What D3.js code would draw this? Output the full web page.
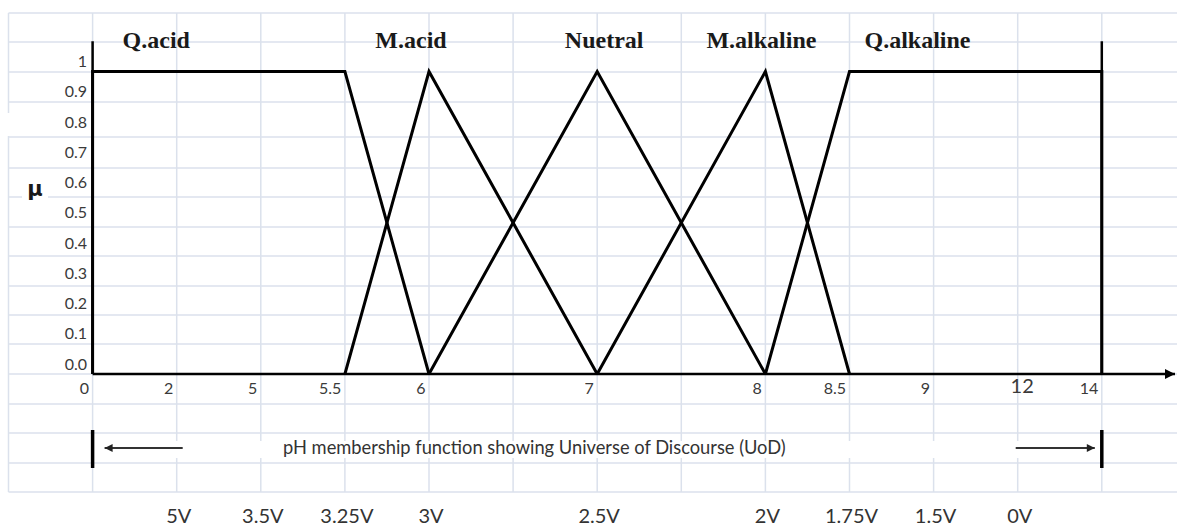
<!DOCTYPE html>
<html>
<head>
<meta charset="utf-8">
<script src="https://cdn.jsdelivr.net/npm/d3@7"></script>
<style>
  html, body { margin: 0; padding: 0; background: #fff; }
  svg { display: block; }
</style>
</head>
<body>
<svg id="chart" width="1177" height="529"></svg>
<script>
// pH values marked along the universe of discourse
const phTicks = [0, 2, 5, 5.5, 6, 7, 8, 8.5, 9, 12, 14];

// membership grades on the μ axis
const muTicks = [0, 0.1, 0.2, 0.3, 0.4, 0.5, 0.6, 0.7, 0.8, 0.9, 1];
const muTickLabels = ["0.0", "0.1", "0.2", "0.3", "0.4", "0.5", "0.6", "0.7", "0.8", "0.9", "1"];

// fuzzy sets: name and trapezoid corners (a, b, c, d) in pH units
const setNames = ["Q.acid", "M.acid", "Nuetral", "M.alkaline", "Q.alkaline"];
const setCorners = [
  [0, 0, 5.5, 6],
  [5.5, 6, 6, 7],
  [6, 7, 7, 8],
  [7, 8, 8, 8.5],
  [8, 8.5, 14, 14]
];

// probe voltage read at each pH point
const voltLabels = ["5V", "3.5V", "3.25V", "3V", "2.5V", "2V", "1.75V", "1.5V", "0V"];
const voltPh = [2, 5, 5.5, 6, 7, 8, 8.5, 9, 12];

const uodCaption = "pH membership function showing Universe of Discourse (UoD)";

// ---- sheet layout ----
const W = 1177, H = 529;
const colW = 84.1, colX0 = 8.5;
const colX = i => colX0 + i * colW;
const tickColumns = [1, 2, 3, 4, 5, 7, 9, 10, 11, 12, 13];
const rowY = [13, 42, 72, 102, 137, 168, 197, 227, 256, 286, 315, 344, 374, 404, 433, 463, 492];

const svg = d3.select("#chart");
const sansFont = "Lato, 'Open Sans', sans-serif";
const serifFont = "'Liberation Serif', 'DejaVu Serif', serif";

// piecewise pH scale: each tick sits on a sheet column edge
const x = d3.scaleLinear()
  .domain(phTicks)
  .range(tickColumns.map(colX));

const y = d3.scaleLinear()
  .domain([0, 1])
  .range([374, 71.5]);

// ---- background cell grid ----
const grid = svg.append("g")
  .attr("stroke", "#dbe1ec")
  .attr("stroke-width", 1.5)
  .attr("fill", "none");

grid.selectAll("line.h").data(rowY).join("line")
  .attr("class", "h")
  .attr("x1", colX(0)).attr("x2", W)
  .attr("y1", d => d).attr("y2", d => d);

grid.selectAll("line.v").data(d3.range(0, 15)).join("line")
  .attr("class", "v")
  .attr("x1", d => colX(d)).attr("x2", d => colX(d))
  .attr("y1", rowY[0]).attr("y2", rowY[rowY.length - 1]);

// blank cell edge on the far left column
svg.append("rect")
  .attr("x", colX(0) - 2).attr("y", 113).attr("width", 4).attr("height", 23)
  .attr("fill", "#fff");

// ---- μ axis ----
svg.append("line")
  .attr("x1", x(0)).attr("x2", x(0))
  .attr("y1", y(1.1)).attr("y2", y(0))
  .attr("stroke", "#000").attr("stroke-width", 2.5);

const yAxis = d3.axisLeft(y)
  .tickValues(muTicks)
  .tickFormat((d, i) => muTickLabels[i])
  .tickSize(0)
  .tickPadding(5);

const yg = svg.append("g")
  .attr("transform", `translate(${x(0) - 0.5},0)`)
  .call(yAxis);
yg.select(".domain").remove();
yg.selectAll("text")
  .attr("dy", "-0.3em")
  .attr("font-family", sansFont)
  .attr("font-size", 16)
  .attr("fill", "#3a3a3a");

// μ label with its own cell background
svg.append("rect")
  .attr("x", 22).attr("y", 178).attr("width", 26).attr("height", 25)
  .attr("fill", "#fff");
svg.append("text")
  .attr("x", 35).attr("y", 196)
  .attr("text-anchor", "middle")
  .attr("font-family", "'DejaVu Sans', sans-serif")
  .attr("font-weight", "bold")
  .attr("font-size", 21)
  .attr("fill", "#1a1a1a")
  .text("μ");

// ---- pH axis with arrow ----
const defs = svg.append("defs");
defs.append("marker")
  .attr("id", "axisHead")
  .attr("viewBox", "0 0 10 10")
  .attr("refX", 10).attr("refY", 5)
  .attr("markerWidth", 12).attr("markerHeight", 10)
  .attr("markerUnits", "userSpaceOnUse")
  .attr("orient", "auto")
  .append("path").attr("d", "M0,0 L10,5 L0,10 Z").attr("fill", "#000");

defs.append("marker")
  .attr("id", "smallHead")
  .attr("viewBox", "0 0 10 10")
  .attr("refX", 10).attr("refY", 5)
  .attr("markerWidth", 9).attr("markerHeight", 8)
  .attr("markerUnits", "userSpaceOnUse")
  .attr("orient", "auto")
  .append("path").attr("d", "M0,0 L10,5 L0,10 Z").attr("fill", "#222");

svg.append("line")
  .attr("x1", x(0)).attr("x2", W - 2)
  .attr("y1", y(0)).attr("y2", y(0))
  .attr("stroke", "#000").attr("stroke-width", 2.5)
  .attr("marker-end", "url(#axisHead)");

const xAxis = d3.axisBottom(x)
  .tickValues(phTicks)
  .tickFormat(d3.format("~g"))
  .tickSize(0)
  .tickPadding(9);

const xg = svg.append("g")
  .attr("transform", `translate(0,${y(0)})`)
  .call(xAxis);
xg.select(".domain").remove();
xg.selectAll("text")
  .attr("font-family", sansFont)
  .attr("fill", "#3a3a3a")
  .attr("font-size", d => d === 12 ? 20 : 16)
  .attr("text-anchor", d => d === 12 ? "middle" : "end")
  .attr("dx", d => d === 12 ? 4 : -4)
  .attr("dy", d => d === 12 ? "0.5em" : "0.68em");

// right boundary of the universe
svg.append("line")
  .attr("x1", x(14)).attr("x2", x(14))
  .attr("y1", y(1.1)).attr("y2", y(0))
  .attr("stroke", "#000").attr("stroke-width", 2.5);

// ---- membership functions ----
const line = d3.line().x(d => x(d[0])).y(d => y(d[1]));
svg.append("g")
  .selectAll("path")
  .data(setCorners)
  .join("path")
  .attr("d", c => line([[c[0], 0], [c[1], 1], [c[2], 1], [c[3], 0]]))
  .attr("fill", "none")
  .attr("stroke", "#000")
  .attr("stroke-width", 3)
  .attr("stroke-linejoin", "miter");

// set names above each function
const lastSet = setNames.length - 1;
const labelX = (c, i) => {
  if (i === 0) return x(c[1]) + 30;          // left shoulder: after the μ axis
  if (i === lastSet) return x(c[1]) + 15;    // right shoulder: after its rise
  const peak = (x(c[1]) + x(c[2])) / 2;
  return peak + (i === 1 ? -18 : i === 2 ? 7 : -4);
};
svg.append("g")
  .selectAll("text")
  .data(setCorners)
  .join("text")
  .attr("x", (c, i) => labelX(c, i))
  .attr("y", 48)
  .attr("text-anchor", (c, i) => (i === 0 || i === lastSet) ? "start" : "middle")
  .attr("font-family", serifFont)
  .attr("font-weight", "bold")
  .attr("font-size", 24)
  .attr("fill", "#1a1a1a")
  .text((c, i) => setNames[i]);

// ---- universe of discourse span ----
svg.append("rect")
  .attr("x", x(0)).attr("y", 441)
  .attr("width", x(14) - x(0)).attr("height", 17)
  .attr("fill", "#fff");

[x(0), x(14)].forEach(px => {
  svg.append("line")
    .attr("x1", px).attr("x2", px)
    .attr("y1", 430).attr("y2", 468)
    .attr("stroke", "#000").attr("stroke-width", 3.5);
});

svg.append("line")
  .attr("x1", x(2) + 6).attr("x2", x(0) + 12)
  .attr("y1", 448).attr("y2", 448)
  .attr("stroke", "#333").attr("stroke-width", 2)
  .attr("marker-end", "url(#smallHead)");

svg.append("line")
  .attr("x1", x(12) - 2).attr("x2", x(14) - 7)
  .attr("y1", 448).attr("y2", 448)
  .attr("stroke", "#333").attr("stroke-width", 2)
  .attr("marker-end", "url(#smallHead)");

svg.append("text")
  .attr("x", 283).attr("y", 454)
  .attr("font-family", sansFont)
  .attr("font-size", 18.3)
  .attr("fill", "#333")
  .text(uodCaption);

// ---- voltage row ----
svg.append("g")
  .selectAll("text")
  .data(voltPh)
  .join("text")
  .attr("x", d => x(d) + 2)
  .attr("y", 523)
  .attr("text-anchor", "middle")
  .attr("font-family", sansFont)
  .attr("font-size", 20)
  .attr("fill", "#333")
  .text((d, i) => voltLabels[i]);
</script>
</body>
</html>
